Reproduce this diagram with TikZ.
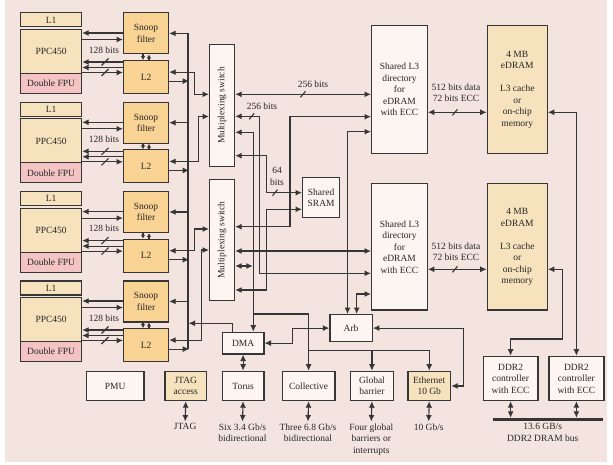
\documentclass[tikz,border=0pt]{standalone}
\usepackage{amsmath,graphicx,tikz}
\usepackage{xcolor}
\usepackage{fontspec}
\setmainfont{Liberation Serif}
\usetikzlibrary{arrows.meta}

\definecolor{panel}{HTML}{F3E4DF}
\definecolor{coretan}{HTML}{F6E3BD}
\definecolor{snooporange}{HTML}{F9D394}
\definecolor{fpupink}{HTML}{F4C4C4}
\definecolor{boxwhite}{HTML}{FDF5F2}
\definecolor{linegray}{HTML}{363636}

\begin{document}
\begin{tikzpicture}[x=1pt,y=-1pt,
    box/.style={draw=linegray, line width=1.2pt, anchor=north west, inner sep=0pt,
        align=center, text=black!85, font=\fontsize{9.5}{11.5}\selectfont},
    whitebox/.style={box, fill=boxwhite},
    tanbox/.style={box, fill=coretan},
    orangebox/.style={box, fill=snooporange},
    pinkbox/.style={box, fill=fpupink},
    txt/.style={inner sep=2pt, align=center, text=black!85, font=\fontsize{9.5}{11.5}\selectfont},
    wire/.style={draw=linegray, line width=1.1pt},
    arr/.style={wire, -{Latex[length=6.5pt,width=6pt]}},
    bi/.style={wire, {Latex[length=6.5pt,width=6pt]}-{Latex[length=6.5pt,width=6pt]}},
    arrs/.style={wire, -{Latex[length=3.8pt,width=4.5pt]}}]
    % Draw the panel
    \useasboundingbox (0,0) rectangle (613,465);
    \fill[panel] (5,0) rectangle (607,462);

    % Cores
    \node[tanbox, minimum width=61pt, minimum height=14pt] (l1a) at (20,12.3) {L1};
    \node[tanbox, minimum width=61pt, minimum height=44pt] (ppca) at (20,29) {PPC450};
    \node[pinkbox, minimum width=61pt, minimum height=20pt] (fpua) at (20,73) {Double FPU};
    \node[orangebox, minimum width=45pt, minimum height=41pt] (snoopa) at (123,12.3) {Snoop\\filter};
    \node[orangebox, minimum width=45pt, minimum height=33pt] (l2a) at (123,60) {L2};
    \node[txt] (bitsa) at (104,50) {128 bits};

    \node[tanbox, minimum width=61pt, minimum height=14pt] (l1b) at (20,101.6) {L1};
    \node[tanbox, minimum width=61pt, minimum height=44pt] (ppcb) at (20,118.3) {PPC450};
    \node[pinkbox, minimum width=61pt, minimum height=20pt] (fpub) at (20,162.3) {Double FPU};
    \node[orangebox, minimum width=45pt, minimum height=41pt] (snoopb) at (123,101.6) {Snoop\\filter};
    \node[orangebox, minimum width=45pt, minimum height=33pt] (l2b) at (123,149.3) {L2};
    \node[txt] (bitsb) at (104,139.3) {128 bits};

    \node[tanbox, minimum width=61pt, minimum height=14pt] (l1c) at (20,190.9) {L1};
    \node[tanbox, minimum width=61pt, minimum height=44pt] (ppcc) at (20,207.6) {PPC450};
    \node[pinkbox, minimum width=61pt, minimum height=20pt] (fpuc) at (20,251.6) {Double FPU};
    \node[orangebox, minimum width=45pt, minimum height=41pt] (snoopc) at (123,190.9) {Snoop\\filter};
    \node[orangebox, minimum width=45pt, minimum height=33pt] (l2c) at (123,238.6) {L2};
    \node[txt] (bitsc) at (104,228.6) {128 bits};

    \node[tanbox, minimum width=61pt, minimum height=14pt] (l1d) at (20,280.3) {L1};
    \node[tanbox, minimum width=61pt, minimum height=44pt] (ppcd) at (20,297) {PPC450};
    \node[pinkbox, minimum width=61pt, minimum height=20pt] (fpud) at (20,341) {Double FPU};
    \node[orangebox, minimum width=45pt, minimum height=41pt] (snoopd) at (123,280.3) {Snoop\\filter};
    \node[orangebox, minimum width=45pt, minimum height=33pt] (l2d) at (123,328) {L2};
    \node[txt] (bitsd) at (104,318) {128 bits};

    % Switches, L3 and memory
    \node[whitebox, minimum width=25pt, minimum height=122pt] (mux1) at (209,44) {\rotatebox{90}{Multiplexing switch}};
    \node[whitebox, minimum width=25pt, minimum height=121pt] (mux2) at (209,179) {\rotatebox{90}{Multiplexing switch}};
    \node[whitebox, minimum width=37pt, minimum height=40pt] (sram) at (302,177) {Shared\\SRAM};
    \node[whitebox, minimum width=55.7pt, minimum height=128.3pt] (l3a) at (371,25) {Shared L3\\directory\\for\\eDRAM\\with ECC};
    \node[whitebox, minimum width=55.7pt, minimum height=126pt] (l3b) at (371,183.3) {Shared L3\\directory\\for\\eDRAM\\with ECC};
    \node[tanbox, minimum width=60pt, minimum height=128.3pt] (eda) at (486.7,25) {4 MB\\eDRAM\\[11.5pt]L3 cache\\or\\on-chip\\memory};
    \node[tanbox, minimum width=60pt, minimum height=126pt] (edb) at (486.7,183.3) {4 MB\\eDRAM\\[11.5pt]L3 cache\\or\\on-chip\\memory};

    % Devices
    \node[whitebox, minimum width=41.6pt, minimum height=21.6pt] (dma) at (221.7,331.7) {DMA};
    \node[whitebox, minimum width=42.4pt, minimum height=27pt] (arb) at (329.3,314) {Arb};
    \node[whitebox, minimum width=57.3pt, minimum height=29.3pt] (pmu) at (86,370.7) {PMU};
    \node[tanbox, minimum width=41.7pt, minimum height=29.3pt] (jtag) at (164.3,370.7) {JTAG\\access};
    \node[whitebox, minimum width=41.6pt, minimum height=29.3pt] (torus) at (221.7,370.7) {Torus};
    \node[whitebox, minimum width=52.6pt, minimum height=29.3pt] (coll) at (281.7,370.7) {Collective};
    \node[whitebox, minimum width=42.7pt, minimum height=29.3pt] (gbar) at (350,370.7) {Global\\barrier};
    \node[tanbox, minimum width=42.7pt, minimum height=29.3pt] (eth) at (407.3,370.7) {Ethernet\\10 Gb};
    \node[whitebox, minimum width=54.6pt, minimum height=44.3pt] (ddra) at (482.7,355.7) {DDR2\\controller\\with ECC};
    \node[whitebox, minimum width=55pt, minimum height=44.3pt] (ddrb) at (548.3,355.7) {DDR2\\controller\\with ECC};

    \node[txt, anchor=north] (jtagtxt) at (185.2,421.5) {JTAG};
    \node[txt, anchor=north] (torustxt) at (242.5,421.5) {Six 3.4 Gb/s\\bidirectional};
    \node[txt, anchor=north] (colltxt) at (308,421.5) {Three 6.8 Gb/s\\bidirectional};
    \node[txt, anchor=north] (gbartxt) at (371.3,421.5) {Four global\\barriers or\\interrupts};
    \node[txt, anchor=north] (ethtxt) at (428.7,421.5) {10 Gb/s};
    \node[txt, anchor=north] (bustxt) at (542.7,421.5) {13.6 GB/s\\DDR2 DRAM bus};

    % Labels on wires
    \node[txt] (w256a) at (313,84.5) {256 bits};
    \node[txt] (w256b) at (262,106) {256 bits};
    \node[txt] (w64) at (277,176.5) {64\\bits};
    \node[txt] (w512a) at (456,93) {512 bits data\\72 bits ECC};
    \node[txt] (w512b) at (456,251.5) {512 bits data\\72 bits ECC};

    \coordinate (bustop) at (188,32.8);
    \coordinate (busbot) at (188,348.5);
    \coordinate (busdma) at (188.5,323.3);
    \coordinate (dmaj) at (253.3,314);
    \coordinate (collj) at (308,350.7);
    \coordinate (busl) at (492.7,419.3);
    \coordinate (busr) at (602.7,419.3);

    % Core a wires
    \draw[arr] (snoopa.west |- 0,33) -- (ppca.east |- 0,33);
    \draw[arr] (ppca.east |- 0,39.5) -- (snoopa.west |- 0,39.5);
    \draw[arr] (l2a.west |- 0,62) -- (ppca.east |- 0,62);
    \draw[arr] (l2a.west |- 0,67.5) -- (ppca.east |- 0,67.5);
    \draw[arr] (ppca.east |- 0,72.5) -- (l2a.west |- 0,72.5);
    \draw[wire] (101.5,65.5) -- (108.5,58.5);
    \draw[wire] (101.5,76) -- (108.5,69);
    \draw[arrs] (snoopa.south -| 143,0) -- (l2a.north -| 143,0);
    \draw[arrs] (l2a.north -| 149,0) -- (snoopa.south -| 149,0);
    \draw[arr] ([xshift=20pt]snoopa.east) -- (snoopa.east);
    \draw[arr] ([yshift=-4pt]l2a.east) -- ++(20,0);
    \draw[bi] ([yshift=5pt]l2a.east) -- ++(25.3,0) |- (mux1.west |- 0,94.3);

    % Core b wires
    \draw[arr] (snoopb.west |- 0,122.3) -- (ppcb.east |- 0,122.3);
    \draw[arr] (ppcb.east |- 0,128.8) -- (snoopb.west |- 0,128.8);
    \draw[arr] (l2b.west |- 0,151.3) -- (ppcb.east |- 0,151.3);
    \draw[arr] (l2b.west |- 0,156.8) -- (ppcb.east |- 0,156.8);
    \draw[arr] (ppcb.east |- 0,161.8) -- (l2b.west |- 0,161.8);
    \draw[wire] (101.5,154.8) -- (108.5,147.8);
    \draw[wire] (101.5,165.3) -- (108.5,158.3);
    \draw[arrs] (snoopb.south -| 143,0) -- (l2b.north -| 143,0);
    \draw[arrs] (l2b.north -| 149,0) -- (snoopb.south -| 149,0);
    \draw[arr] ([xshift=20pt]snoopb.east) -- (snoopb.east);
    \draw[arr] ([yshift=-4pt]l2b.east) -- ++(20,0);
    \draw[bi] ([yshift=5pt]l2b.east) -- ++(29,0) |- (mux1.west |- 0,116.5);

    % Core c wires
    \draw[arr] (snoopc.west |- 0,211.6) -- (ppcc.east |- 0,211.6);
    \draw[arr] (ppcc.east |- 0,218.1) -- (snoopc.west |- 0,218.1);
    \draw[arr] (l2c.west |- 0,240.6) -- (ppcc.east |- 0,240.6);
    \draw[arr] (l2c.west |- 0,246.1) -- (ppcc.east |- 0,246.1);
    \draw[arr] (ppcc.east |- 0,251.1) -- (l2c.west |- 0,251.1);
    \draw[wire] (101.5,244.1) -- (108.5,237.1);
    \draw[wire] (101.5,254.6) -- (108.5,247.6);
    \draw[arrs] (snoopc.south -| 143,0) -- (l2c.north -| 143,0);
    \draw[arrs] (l2c.north -| 149,0) -- (snoopc.south -| 149,0);
    \draw[arr] ([xshift=20pt]snoopc.east) -- (snoopc.east);
    \draw[arr] ([yshift=-4pt]l2c.east) -- ++(20,0);
    \draw[bi] ([yshift=5pt]l2c.east) -- ++(25.3,0) |- (mux2.west |- 0,229);

    % Core d wires
    \draw[arr] (snoopd.west |- 0,301) -- (ppcd.east |- 0,301);
    \draw[arr] (ppcd.east |- 0,307.5) -- (snoopd.west |- 0,307.5);
    \draw[arr] (l2d.west |- 0,330) -- (ppcd.east |- 0,330);
    \draw[arr] (l2d.west |- 0,335.5) -- (ppcd.east |- 0,335.5);
    \draw[arr] (ppcd.east |- 0,340.5) -- (l2d.west |- 0,340.5);
    \draw[wire] (101.5,333.5) -- (108.5,326.5);
    \draw[wire] (101.5,344) -- (108.5,337);
    \draw[arrs] (snoopd.south -| 143,0) -- (l2d.north -| 143,0);
    \draw[arrs] (l2d.north -| 149,0) -- (snoopd.south -| 149,0);
    \draw[arr] ([xshift=20pt]snoopd.east) -- (snoopd.east);
    \draw[arr] ([yshift=-4pt]l2d.east) -- ++(20,0);
    \draw[bi] ([yshift=5pt]l2d.east) -- ++(32,0) |- (mux2.west |- 0,250);

    % Snoop bus
    \draw[wire] (bustop) -- (busbot);
    \draw[arr] (dma.north -| 232.7,0) |- (busdma);

    % Switch 1 wires
    \draw[bi] (mux1.east |- 0,94.3) -- (l3a.west |- 0,94.3);
    \draw[wire] (300.5,97.3) -- (305.5,91.3);
    \draw[bi] (mux1.east |- 0,116.3) -| (259.3,273.3) -- (l3b.west |- 0,273.3);
    \draw[wire] (249.2,119.3) -- (254.2,113.3);
    \draw[bi] (mux1.east |- 0,132.3) -| (dma.north -| 253.3,0);
    \draw[bi] (mux1.east |- 0,155.7) -| (266.7,192.7) -- (sram.west |- 0,192.7);
    \draw[wire] (272.5,195.7) -- (277.5,189.7);

    % Switch 2 wires
    \draw[bi] (mux2.east |- 0,226.7) -| (290,116.7) -- (l3a.west |- 0,116.7);
    \draw[bi] (mux2.east |- 0,251) -- (l3b.west |- 0,251);
    \draw[bi] (mux2.east |- 0,266) -- (252.8,266);
    \draw[bi] (mux2.east |- 0,290) -| (266.7,209.3) -- (sram.west |- 0,209.3);

    % L3, eDRAM and DDR2
    \draw[bi] (l3a.east |- 0,112.3) -- (eda.west |- 0,112.3);
    \draw[wire] (452.5,115.3) -- (457.5,109.3);
    \draw[bi] (l3b.east |- 0,269.3) -- (edb.west |- 0,269.3);
    \draw[wire] (452.5,272.3) -- (457.5,266.3);
    \draw[bi] (l3a.west |- 0,131.7) -| (arb.north -| 347.5,0);
    \draw[bi] (l3b.west |- 0,294) -| (arb.north -| 356.7,0);
    \draw[bi] (eda.east |- 0,112.3) -| (ddrb.north);
    \draw[bi] (edb.east |- 0,269.3) -| (562.3,339) -| (ddra.north);

    % Devices wires
    \draw[bi] (dma.east) -- ++(28.4,0) |- (arb.west);
    \draw[bi] (arb.east) -- ++(90.6,0) |- (eth.east);
    \draw[arr] (dmaj) -| (coll.north);
    \draw[arr] (collj) -| (gbar.north);
    \draw[arr] (collj) -| (eth.north);
    \draw[bi] (dma.south) -- (torus.north);
    \draw[bi] (jtag.south) -- (jtagtxt.north);
    \draw[bi] (torus.south) -- (torustxt.north);
    \draw[bi] (coll.south) -- (colltxt.north);
    \draw[bi] (gbar.south) -- (gbartxt.north);
    \draw[bi] (eth.south) -- (ethtxt.north);
    \draw[bi, shorten >=1.5pt] (ddra.south) -- (ddra.south |- busl);
    \draw[bi, shorten >=1.5pt] (ddrb.south) -- (ddrb.south |- busl);
    \draw[linegray, line width=3pt] (busl) -- (busr);
\end{tikzpicture}
\end{document}
